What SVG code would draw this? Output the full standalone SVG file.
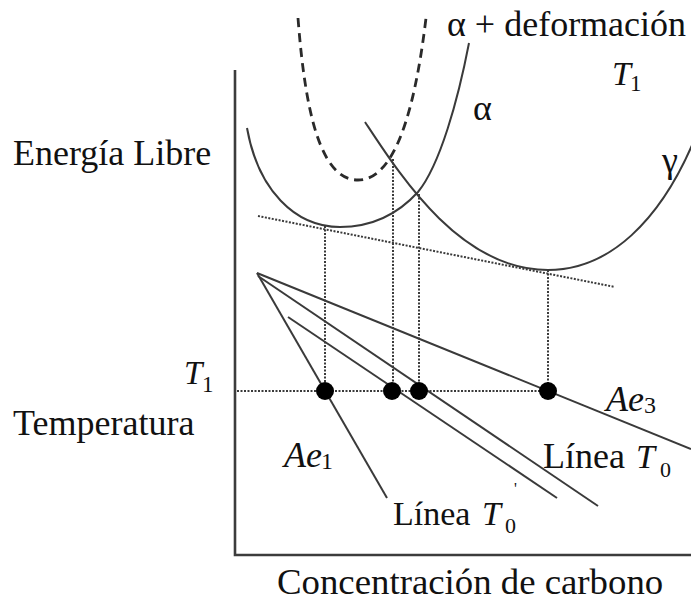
<svg xmlns="http://www.w3.org/2000/svg" width="691" height="603" viewBox="0 0 691 603">
<style>
.ax{stroke:#3c3c3c;stroke-width:2.6;fill:none}
.cv{stroke:#3a3a3a;stroke-width:2;fill:none}
.ds{stroke:#2a2a2a;stroke-width:2.8;fill:none;stroke-dasharray:9 6}
.dt{stroke:#3a3a3a;stroke-width:2;fill:none;stroke-dasharray:2 1.5}
.ln{stroke:#3a3a3a;stroke-width:2;fill:none}
.dot{fill:#000}
text{font-family:"Liberation Serif","Times New Roman",serif;fill:#111}
.t{font-size:36px}
.it{font-style:italic}
</style>
<rect width="691" height="603" fill="#fff"/>
<g id="axes">
<path class="ax" d="M235,70 L235,555 L691,555"/>
</g>
<g id="curves">
<path id="alpha-def" class="ds" d="M298,18 C305,110 320,180 358,180 C395,180 415,110 426,18"/>
<path id="alpha" class="cv" d="M247,128 C258,190 295,227 340,227 C372,227 398,214 418,192 C440,165 458,100 469,43"/>
<path id="gamma" class="cv" d="M365,122 C400,175 460,270 548,270 C610,270 660,220 693,143"/>
</g>
<g id="connectors">
<path class="dt" d="M258,216 L615,287"/>
<path class="dt" d="M325,226 L325,391"/>
<path class="dt" d="M393,159 L393,391"/>
<path class="dt" d="M419,194 L419,391"/>
<path class="dt" d="M548,270 L548,391"/>
<path class="dt" d="M237,391 L548,391"/>
<path id="Ae3-line" class="ln" d="M257,273 L691,449"/>
<path id="Ae1-line" class="ln" d="M257,273 L387,498"/>
<path id="T0-line" class="ln" d="M258,276 L598,506"/>
<path id="T0p-line" class="ln" d="M288,317 L557,498"/>
</g>
<g id="points">
<circle class="dot" cx="325" cy="391" r="9"/>
<circle class="dot" cx="392" cy="391" r="9"/>
<circle class="dot" cx="419" cy="391" r="9"/>
<circle class="dot" cx="548" cy="391" r="9"/>
</g>
<g id="labels">
<text class="t" x="447" y="36">α + deformación</text>
<text x="612" y="85" class="it" font-size="34">T</text><text x="630" y="91" font-size="23">1</text>
<text class="t" x="473" y="120">α</text>
<text class="t" x="662" y="172">γ</text>
<text class="t" x="13" y="165">Energía Libre</text>
<text x="184" y="384" class="it" font-size="33">T</text><text x="202" y="392" font-size="23">1</text>
<text class="t" x="13" y="435">Temperatura</text>
<text x="606" y="411" class="it" font-size="36">Ae</text><text x="644" y="413" font-size="24">3</text>
<text x="284" y="467" class="it" font-size="36">Ae</text><text x="321" y="469" font-size="24">1</text>
<text class="t" x="543" y="468">Línea</text><text x="636" y="468" class="it" font-size="34">T</text><text x="660" y="477" font-size="22">0</text>
<text x="393" y="525" font-size="34">Línea</text><text x="482" y="525" class="it" font-size="34">T</text><text x="505" y="533" font-size="22">0</text><text x="514" y="494" font-size="16">'</text>
<text x="277" y="594" style="font-size:36.8px">Concentración de carbono</text>
</g>
</svg>
